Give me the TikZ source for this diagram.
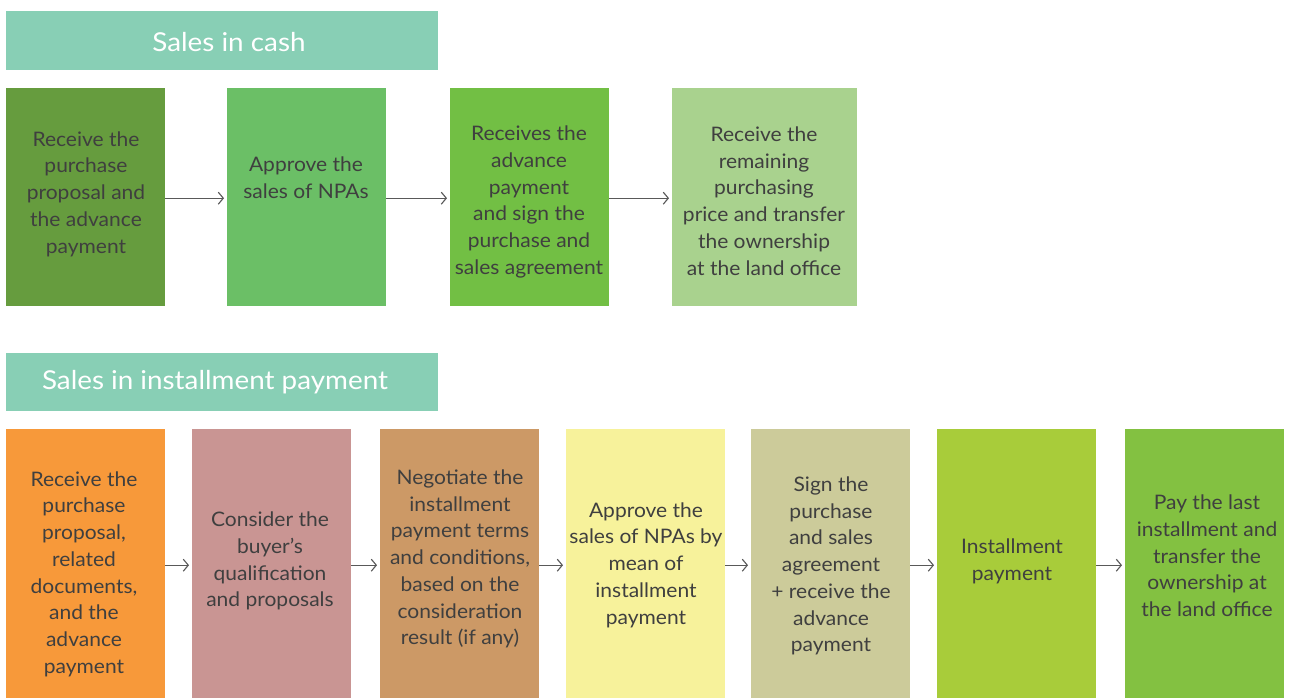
\documentclass[tikz,border=0pt]{standalone}
\usepackage{fontspec}
\setmainfont[FakeStretch=1.05]{Lato}
\newfontfamily\headfont[FakeStretch=1.07]{Lato}
\usetikzlibrary{arrows.meta}
\definecolor{hdr}{HTML}{88CFB5}
\definecolor{ca}{HTML}{669C3E}
\definecolor{cb}{HTML}{6BBF66}
\definecolor{cc}{HTML}{72BF44}
\definecolor{cd}{HTML}{A9D28E}
\definecolor{ia}{HTML}{F7993A}
\definecolor{ib}{HTML}{C99593}
\definecolor{ic}{HTML}{CC9966}
\definecolor{id}{HTML}{F7F29B}
\definecolor{ie}{HTML}{CCCB9A}
\definecolor{if}{HTML}{A8CC3A}
\definecolor{ig}{HTML}{83C141}
\definecolor{txtc}{HTML}{3F3F3F}
\definecolor{arrc}{HTML}{595959}
\tikzset{
  hbox/.style={anchor=north west, minimum width=432pt, minimum height=59pt, inner sep=0pt, fill=hdr},
  htxt/.style={text=white, font=\headfont\fontsize{26}{30}\selectfont, inner sep=0pt},
  stepbox/.style={anchor=north west, minimum width=159pt, inner sep=0pt, draw=none},
  txt/.style={text=txtc, align=center, inner sep=0pt, font=\fontsize{20}{26.7}\selectfont},
  arr/.style={draw=arrc, line width=1.1pt, -{Straight Barb[length=5pt,width=12pt,line width=1.1pt]}}
}
\begin{document}
\begin{tikzpicture}[x=1pt,y=-1pt]
\useasboundingbox (0,0) rectangle (1289,698);
\fill[white] (0,0) rectangle (1289,698);
% header 1
\node[hbox] (h1) at (6,11) {};
\node[htxt] (h1t) at (229,42) {Sales in cash};
% row 1
\node[stepbox, fill=ca, minimum height=218pt] (a1) at (6,88) {};
\node[stepbox, fill=cb, minimum height=218pt] (a2) at (227,88) {};
\node[stepbox, fill=cc, minimum height=218pt] (a3) at (450,88) {};
\node[stepbox, fill=cd, minimum width=185pt, minimum height=218pt] (a4) at (672,88) {};
\node[txt] (a1t) at (86,194) {Receive the\\purchase\\proposal and\\the advance\\payment};
\node[txt] (a2t) at (306,178) {Approve the\\sales of NPAs};
\node[txt] (a3t) at (529,202) {Receives the\\advance\\payment\\and sign the\\purchase and\\sales agreement};
\node[txt] (a4t) at (764,201) {Receive the\\remaining\\purchasing\\price and transfer\\the ownership\\at the land office};
\draw[arr] ([yshift=-1pt]a1.east) -- ([xshift=-3pt,yshift=-1pt]a2.west);
\draw[arr] ([yshift=-1pt]a2.east) -- ([xshift=-3pt,yshift=-1pt]a3.west);
\draw[arr] ([yshift=-1pt]a3.east) -- ([xshift=-3pt,yshift=-1pt]a4.west);
% header 2
\node[hbox, minimum height=58pt] (h2) at (6,353) {};
\node[htxt] (h2t) at (215,382) {Sales in installment payment};
% row 2
\node[stepbox, fill=ia, minimum height=269pt] (b1) at (6,429) {};
\node[stepbox, fill=ib, minimum height=269pt] (b2) at (192,429) {};
\node[stepbox, fill=ic, minimum height=269pt] (b3) at (380,429) {};
\node[stepbox, fill=id, minimum height=269pt] (b4) at (566,429) {};
\node[stepbox, fill=ie, minimum height=269pt] (b5) at (751,429) {};
\node[stepbox, fill=if, minimum height=269pt] (b6) at (937,429) {};
\node[stepbox, fill=ig, minimum height=269pt] (b7) at (1125,429) {};
\node[txt] (b1t) at (84,574) {Receive the\\purchase\\proposal,\\related\\documents,\\and the\\advance\\payment};
\node[txt] (b2t) at (270,561) {Consider the\\buyer’s\\qualification\\and proposals};
\node[txt] (b3t) at (460,559) {Negotiate the\\installment\\payment terms\\and conditions,\\based on the\\consideration\\result (if any)};
\node[txt] (b4t) at (646,565) {Approve the\\sales of NPAs by\\mean of\\installment\\payment};
\node[txt] (b5t) at (831,566) {Sign the\\purchase\\and sales\\agreement\\+ receive the\\advance\\payment};
\node[txt] (b6t) at (1012,561) {Installment\\payment};
\node[txt] (b7t) at (1207,556) {Pay the last\\installment and\\transfer the\\ownership at\\the land office};
\draw[arr] ([yshift=-1.5pt]b1.east) -- ([xshift=-3pt,yshift=-1.5pt]b2.west);
\draw[arr] ([yshift=-1.5pt]b2.east) -- ([xshift=-3pt,yshift=-1.5pt]b3.west);
\draw[arr] ([yshift=-1.5pt]b3.east) -- ([xshift=-3pt,yshift=-1.5pt]b4.west);
\draw[arr] ([yshift=-1.5pt]b4.east) -- ([xshift=-3pt,yshift=-1.5pt]b5.west);
\draw[arr] ([yshift=-1.5pt]b5.east) -- ([xshift=-3pt,yshift=-1.5pt]b6.west);
\draw[arr] ([yshift=-1.5pt]b6.east) -- ([xshift=-3pt,yshift=-1.5pt]b7.west);
\end{tikzpicture}
\end{document}
